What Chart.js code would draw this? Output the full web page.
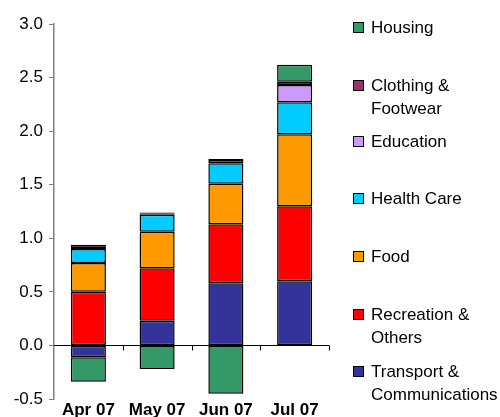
<!DOCTYPE html>
<html>
<head>
<meta charset="utf-8">
<script src="https://cdn.jsdelivr.net/npm/chart.js@4.4.0/dist/chart.umd.min.js"></script>
<style>
  html, body { margin: 0; padding: 0; background: #fff; }
  #wrap { position: relative; width: 500px; height: 417px; }
  #legend { position: absolute; left: 353px; top: 0; font-family: "Liberation Sans", Arial, sans-serif; font-size: 17px; color: #000; }
  .item { position: absolute; left: 0; white-space: nowrap; line-height: 23px; }
  .box { position: absolute; left: 0; top: 6px; width: 9px; height: 9px; border: 1px solid #000; }
  .txt { position: absolute; left: 18px; top: 0; }
</style>
</head>
<body>
<div id="wrap">
  <canvas id="chart" width="500" height="417"></canvas>
  <div id="legend"></div>
</div>
<script>
const months = ['Apr 07', 'May 07', 'Jun 07', 'Jul 07'];
const transport  = [-0.11, 0.23, 0.58, 0.60];
const recreation = [0.50, 0.49, 0.55, 0.70];
const food       = [0.27, 0.34, 0.38, 0.67];
const health     = [0.13, 0.16, 0.19, 0.30];
const education  = [0.01, 0.01, 0.03, 0.16];
const clothing   = [0.03, 0.01, 0.01, 0.03];
const housing    = [-0.23, -0.22, -0.45, 0.16];
const yTicks = [-0.5, 0, 0.5, 1.0, 1.5, 2.0, 2.5, 3.0];

// bottom of stack first
const series = [
    { label: 'Transport & Communications', lines: ['Transport &', 'Communications'], data: transport, color: '#333399' },
    { label: 'Recreation & Others', lines: ['Recreation &', 'Others'], data: recreation, color: '#FF0000' },
    { label: 'Food', lines: ['Food'], data: food, color: '#FF9900' },
    { label: 'Health Care', lines: ['Health Care'], data: health, color: '#00CCFF' },
    { label: 'Education', lines: ['Education'], data: education, color: '#CC99FF' },
    { label: 'Clothing & Footwear', lines: ['Clothing &', 'Footwear'], data: clothing, color: '#993366' },
    { label: 'Housing', lines: ['Housing'], data: housing, color: '#339966' }
];

// legend, top to bottom (reverse of stack)
const legendTops = [16, 74, 130, 187, 245, 303, 360];
const legend = document.getElementById('legend');
series.slice().reverse().forEach((s, i) => {
    const div = document.createElement('div');
    div.className = 'item';
    div.style.top = legendTops[i] + 'px';
    div.innerHTML = '<span class="box" style="background:' + s.color + '"></span>' +
        '<span class="txt">' + s.lines.join('<br>') + '</span>';
    legend.appendChild(div);
});

// zero line with category tick marks
const zeroAxis = {
    id: 'zeroAxis',
    beforeDatasetsDraw(chart) {
        const ctx = chart.ctx;
        const y = chart.scales.y;
        const y0 = Math.round(y.getPixelForValue(0)) + 0.5;
        ctx.save();
        ctx.strokeStyle = '#000';
        ctx.lineWidth = 1;
        ctx.beginPath();
        ctx.moveTo(chart.chartArea.left, y0);
        ctx.lineTo(chart.chartArea.right, y0);
        const step = (chart.chartArea.right - chart.chartArea.left) / months.length;
        for (let i = 1; i <= months.length; i++) {
            const xp = Math.round(chart.chartArea.left + step * i) + 0.5;
            ctx.moveTo(xp, y0);
            ctx.lineTo(xp, y0 + 5);
        }
        ctx.stroke();
        ctx.restore();
    }
};

new Chart(document.getElementById('chart').getContext('2d'), {
    type: 'bar',
    data: {
        labels: months,
        datasets: series.map(s => ({
            label: s.label,
            data: s.data,
            backgroundColor: s.color,
            borderColor: '#000',
            borderWidth: 1.5,
            borderSkipped: false,
            barPercentage: 0.51,
            categoryPercentage: 1
        }))
    },
    options: {
        responsive: false,
        animation: false,
        layout: { padding: { top: 24, right: 171, left: 0, bottom: 0 } },
        plugins: { legend: { display: false }, tooltip: { enabled: false } },
        scales: {
            x: {
                stacked: true,
                grid: { display: false, drawTicks: false, tickLength: 0 },
                border: { display: false },
                ticks: { color: '#000', padding: 1, font: { family: 'Liberation Sans', size: 17, weight: 'bold' } },
                afterFit: s => { s.height = 18; }
            },
            y: {
                stacked: true,
                min: -0.5,
                max: 3.0,
                afterBuildTicks: s => { s.ticks = yTicks.map(v => ({ value: v })); },
                afterFit: s => { s.width = 54; },
                grid: { drawOnChartArea: false, drawTicks: true, tickLength: 5, color: '#808080' },
                border: { display: true, color: '#808080', width: 1.5 },
                ticks: {
                    color: '#000',
                    padding: 6,
                    font: { family: 'Liberation Sans', size: 17 },
                    callback: v => Number(v).toFixed(1)
                }
            }
        }
    },
    plugins: [zeroAxis]
});
</script>
</body>
</html>
